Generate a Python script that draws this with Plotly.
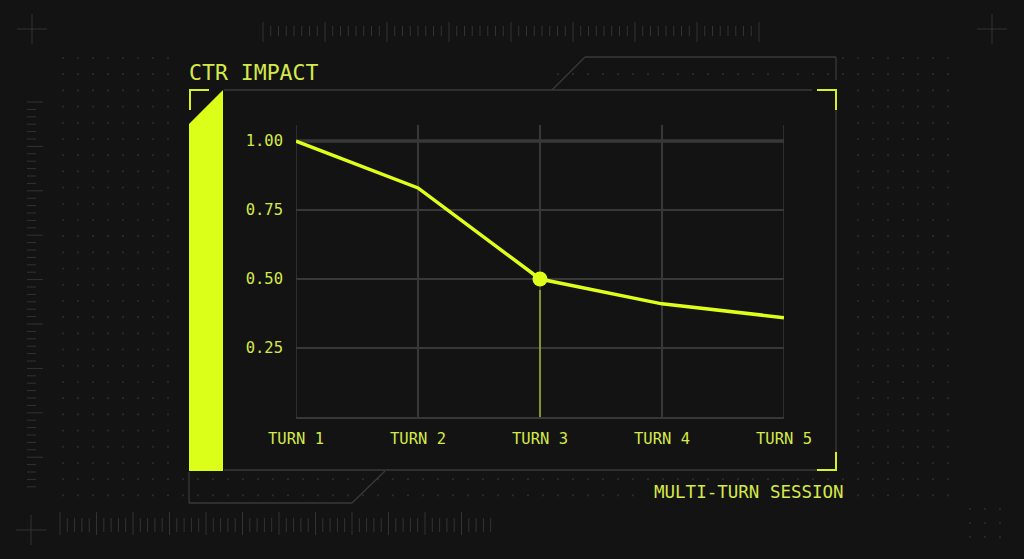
import plotly.graph_objects as go

# ---- data ----
turns = ["TURN 1", "TURN 2", "TURN 3", "TURN 4", "TURN 5"]
ctr = [1.00, 0.83, 0.50, 0.41, 0.36]
highlight_turn = "TURN 3"
y_ticks = [0.25, 0.50, 0.75, 1.00]
title_text = "CTR IMPACT"
xlabel_text = "MULTI-TURN SESSION"

BG = "#131313"
LINE = "#dfff1a"
TXT = "#d6e94a"
GRID = "#383838"
DECO = "#333333"
DOT = "#2b2b2b"
FONT = "DejaVu Sans Mono"

W, H = 1024, 559
fig = go.Figure()

# ---------- decorative layer (pixel coordinates on x2/y2) ----------
def segs(lines):
    xs, ys = [], []
    for (x0, y0, x1, y1) in lines:
        xs += [x0, x1, None]
        ys += [y0, y1, None]
    return xs, ys

# dot grid
dx, dy = [], []
def excluded(x, y):
    if 180 <= x <= 845 and 84 <= y <= 477:
        return True
    if 180 <= x <= 545 and 45 <= y <= 86:
        return True
    if 545 <= x <= 842 and 48 <= y <= 66:
        return True
    if 645 <= x <= 852 and 480 <= y <= 505:
        return True
    return False
for j in range(28):
    y = 58 + 16.2 * j
    if y > 498:
        break
    for k in range(61):
        x = 63 + 15 * k
        if x > 962:
            break
        if not excluded(x, y):
            dx.append(x); dy.append(y)
for y in (509, 523, 537):
    for x in (970, 985, 1000):
        dx.append(x); dy.append(y)
fig.add_trace(go.Scatter(x=dx, y=dy, mode="markers", xaxis="x2", yaxis="y2",
                         marker=dict(size=2.2, color=DOT), hoverinfo="skip", showlegend=False))

# rulers
ruler = []
i = 0
x = 263.0
while x <= 761:
    long_ = (i % 8 == 0)
    ruler.append((x, 22 if long_ else 26, x, 42 if long_ else 36))
    x += 7.75; i += 1
i = 0
x = 60.0
while x <= 496:
    long_ = (i % 5 == 0)
    ruler.append((x, 512 if long_ else 518, x, 535 if long_ else 532))
    x += 7.3; i += 1
i = 0
y = 102.0
while y <= 489:
    long_ = (i % 6 == 0)
    ruler.append((27, y, 43 if long_ else 36, y))
    y += 7.4; i += 1
# crosshairs
for (cx, cy) in [(32, 29), (992, 29), (31, 530)]:
    ruler.append((cx - 15, cy, cx + 15, cy))
    ruler.append((cx, cy - 15, cx, cy + 15))
rx, ry = segs(ruler)
fig.add_trace(go.Scatter(x=rx, y=ry, mode="lines", xaxis="x2", yaxis="y2",
                         line=dict(color=DECO, width=1), hoverinfo="skip", showlegend=False))

# panel frame and connectors
frame = [
    (224, 90, 812, 90),
    (836, 110, 836, 452),
    (224, 470, 817, 470),
    (552, 90, 585, 57), (585, 57, 836, 57), (836, 57, 836, 80),
    (189, 472, 189, 503), (189, 503, 352, 503), (352, 503, 385, 471),
]
fx, fy = segs(frame)
fig.add_trace(go.Scatter(x=fx, y=fy, mode="lines", xaxis="x2", yaxis="y2",
                         line=dict(color="#3a3a3a", width=1.3), hoverinfo="skip", showlegend=False))

shapes = []
# yellow bar with slanted top
shapes.append(dict(type="path", xref="x2", yref="y2",
                   path="M 189,124 L 223,90 L 223,471 L 189,471 Z",
                   fillcolor="#dcff1a", line=dict(width=0), layer="above"))
# brackets
for p in ["M 209,90 L 190,90 L 190,110",
          "M 817,90 L 836,90 L 836,110",
          "M 836,452 L 836,470 L 817,470"]:
    shapes.append(dict(type="path", xref="x2", yref="y2", path=p,
                       line=dict(color="#d8f02a", width=2), layer="above"))

# ---------- main chart ----------
fig.add_trace(go.Scatter(x=turns, y=ctr, mode="lines", line=dict(color=LINE, width=3.5),
                         hoverinfo="x+y", showlegend=False))
hi = turns.index(highlight_turn)
fig.add_trace(go.Scatter(x=[turns[hi]], y=[ctr[hi]], mode="markers",
                         marker=dict(size=15, color=LINE), showlegend=False))

# edge gridlines (plotly omits gridlines at the range edges)
for xe in (0, len(turns) - 1):
    shapes.append(dict(type="line", xref="x", yref="y domain", x0=xe, x1=xe,
                       y0=0, y1=1, line=dict(color=GRID, width=1.5), layer="below"))
shapes.append(dict(type="line", xref="x", yref="y", x0=0, x1=len(turns) - 1,
                   y0=1.0, y1=1.0, line=dict(color="#4a4a4a", width=3), layer="below"))
shapes.append(dict(type="line", xref="x", yref="y", x0=hi, x1=hi,
                   y0=0, y1=ctr[hi] - 0.04, line=dict(color="#b9d230", width=1.2), layer="above"))

fig.update_layout(
    template="none",
    width=W, height=H, autosize=False,
    margin=dict(l=0, r=0, t=0, b=0, pad=0, autoexpand=False),
    showlegend=False,
    paper_bgcolor=BG, plot_bgcolor="rgba(0,0,0,0)",
    font=dict(family=FONT, color=TXT),
    shapes=shapes,
    xaxis=dict(domain=[296 / W, 784 / W], type="category", categoryorder="array",
               categoryarray=turns, range=[0, len(turns) - 1], automargin=False,
               showgrid=True, gridcolor=GRID, gridwidth=1.5,
               showline=True, linecolor=GRID, linewidth=1.5,
               zeroline=False, ticks="", ticklabelstandoff=7,
               tickfont=dict(family=FONT, size=15.5, color=TXT), fixedrange=True),
    yaxis=dict(domain=[(H - 417) / H, (H - 125) / H], range=[0, 1.058], automargin=False,
               tickvals=y_ticks, tickformat=".2f",
               showgrid=True, gridcolor=GRID, gridwidth=1.5,
               zeroline=False, showline=False, ticks="", ticklabelstandoff=12,
               tickfont=dict(family=FONT, size=15.5, color=TXT), fixedrange=True),
    xaxis2=dict(domain=[0, 1], range=[0, W], visible=False, anchor="y2",
                automargin=False, fixedrange=True),
    yaxis2=dict(domain=[0, 1], range=[H, 0], visible=False, anchor="x2",
                automargin=False, fixedrange=True),
    annotations=[
        dict(xref="x2", yref="y2", x=187, y=72, text=title_text, showarrow=False,
             xanchor="left", yanchor="middle", font=dict(family=FONT, size=21.5, color=TXT)),
        dict(xref="x2", yref="y2", x=846, y=492, text=xlabel_text, showarrow=False,
             xanchor="right", yanchor="middle", font=dict(family=FONT, size=17.5, color=TXT)),
    ],
)

fig.write_html("out.html")
